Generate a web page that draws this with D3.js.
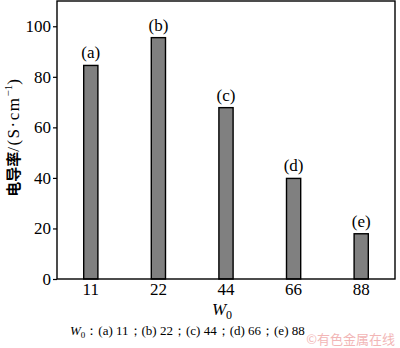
<!DOCTYPE html>
<html>
<head>
<meta charset="utf-8">
<script src="https://cdn.jsdelivr.net/npm/d3@7"></script>
<style>
  html, body { margin: 0; padding: 0; background: #fff; }
  svg { display: block; }
  text { font-family: "Liberation Serif", "Times New Roman", serif; fill: #000; }
</style>
</head>
<body>
<div id="chart"></div>
<script>
// Conductivity vs W0 — bars with (a)..(e) tags
const categories = ["11", "22", "44", "66", "88"];
const values = [84.5, 95.5, 67.8, 39.8, 17.9];
const tags = ["(a)", "(b)", "(c)", "(d)", "(e)"];
const yTicks = [0, 20, 40, 60, 80, 100];

const W = 400, H = 348;
const M = { top: 1, right: 5, bottom: 69, left: 57 };
const innerW = W - M.left - M.right;
const innerH = H - M.top - M.bottom;

const svg = d3.select("#chart").append("svg")
  .attr("width", W).attr("height", H);

const g = svg.append("g").attr("transform", `translate(${M.left},${M.top})`);

const x = d3.scaleBand().domain(categories).range([0, innerW])
  .paddingInner(0.79).paddingOuter(0.395);
const y = d3.scaleLinear().domain([0, 110]).range([innerH, 0]);

// bars
g.selectAll("rect.bar").data(values).join("rect")
  .attr("class", "bar")
  .attr("x", (d, i) => x(categories[i]))
  .attr("y", d => y(d))
  .attr("width", x.bandwidth())
  .attr("height", d => innerH - y(d))
  .attr("fill", "#808080")
  .attr("stroke", "#000")
  .attr("stroke-width", 1.4);

// tags above bars
g.selectAll("text.tag").data(values).join("text")
  .attr("class", "tag")
  .attr("x", (d, i) => x(categories[i]) + x.bandwidth() / 2)
  .attr("y", d => y(d) - 7)
  .attr("text-anchor", "middle")
  .style("font-size", "17px")
  .text((d, i) => tags[i]);

// frame
g.append("rect")
  .attr("x", 0).attr("y", 0)
  .attr("width", innerW).attr("height", innerH)
  .attr("fill", "none").attr("stroke", "#000").attr("stroke-width", 1.4);

// y axis
const yAx = g.append("g")
  .call(d3.axisLeft(y).tickValues(yTicks).tickSize(4).tickPadding(2));
yAx.select(".domain").remove();
yAx.selectAll("line").attr("stroke", "#000").attr("stroke-width", 1.2);
yAx.selectAll("text").style("font-size", "17px")
  .style("font-family", "'Liberation Serif', serif");

// x axis
const xAx = g.append("g").attr("transform", `translate(0,${innerH})`)
  .call(d3.axisBottom(x).tickSize(0).tickPadding(4));
xAx.select(".domain").remove();
xAx.selectAll("text").style("font-size", "17px")
  .style("font-family", "'Liberation Serif', serif");

// x title W0
const xt = svg.append("text")
  .attr("x", M.left + innerW / 2 - 4).attr("y", 315)
  .attr("text-anchor", "middle")
  .style("font-size", "17px");
xt.append("tspan").style("font-style", "italic").text("W");
xt.append("tspan").attr("dy", 4).style("font-size", "12px").text("0");

// y title
const yt = svg.append("text")
  .attr("transform", `translate(19,${138}) rotate(-90)`)
  .attr("text-anchor", "middle")
  .style("font-size", "17px");
yt.append("tspan")
  .style("font-family", "'Noto Sans CJK SC', sans-serif")
  .style("font-weight", "bold")
  .style("font-size", "15px")
  .text("电导率");
yt.append("tspan").style("letter-spacing", "1.5px").text("/(S·cm");
yt.append("tspan").attr("dy", -7).style("font-size", "11px").text("−1");
yt.append("tspan").attr("dy", 7).text(")");

// caption
const cap = svg.append("text")
  .attr("x", 70).attr("y", 335)
  .style("font-size", "13px");
cap.append("tspan").style("font-style", "italic").text("W");
cap.append("tspan").attr("dy", 3).style("font-size", "9px").text("0");
cap.append("tspan").attr("dy", -3)
  .text("：(a) 11；(b) 22；(c) 44；(d) 66；(e) 88");

// watermark
svg.append("text")
  .attr("x", 395).attr("y", 344)
  .attr("text-anchor", "end")
  .style("font-family", "'Noto Sans CJK SC', sans-serif")
  .style("font-size", "13px")
  .style("fill", "#f2b6b6")
  .text("©有色金属在线");
</script>
</body>
</html>
